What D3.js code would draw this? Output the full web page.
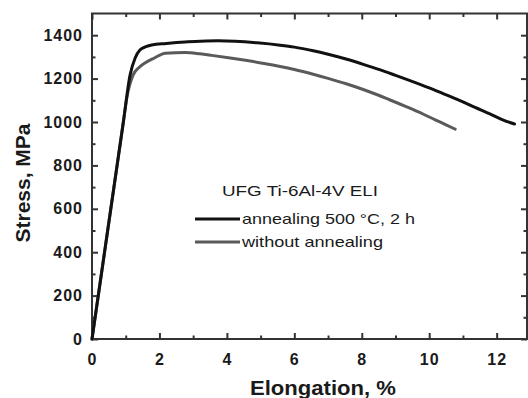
<!DOCTYPE html>
<html>
<head>
<meta charset="utf-8">
<script src="https://cdn.jsdelivr.net/npm/d3@7"></script>
<style>
  body { margin: 0; background: #fff; }
  svg { display: block; font-family: "Liberation Sans", Arial, sans-serif; }
  .axis path { display: none; }
  .axis line { stroke: #333; stroke-width: 2; }
  .axis text { font-family: "Liberation Sans", Arial, sans-serif; font-size: 16px; font-weight: bold; fill: #1a1a1a; letter-spacing: 1px; }
</style>
</head>
<body>
<svg id="chart" width="528" height="398"></svg>
<script>
// stress-strain curves (elongation %, stress MPa)
var strainAnnealed = [0, 0.93, 1.13, 1.28, 1.42, 1.6, 1.77, 2.2, 2.76, 3.2, 3.74, 4.24, 4.9, 5.58, 6.0, 6.56, 7.0, 7.56, 8.0, 8.55, 9.0, 9.39, 10.0, 10.38, 11.0, 11.36, 11.8, 12.16, 12.53];
var stressAnnealed = [0, 1000, 1217, 1295, 1332, 1347, 1355, 1362, 1369, 1372, 1374, 1372, 1365, 1354, 1345, 1328, 1312, 1289, 1268, 1240, 1215, 1193, 1157, 1133, 1093, 1067, 1037, 1011, 991];

var strainRaw = [0, 0.93, 1.03, 1.22, 1.4, 1.57, 1.85, 2.17, 2.76, 3.2, 3.55, 4.1, 4.6, 5.1, 5.58, 6.0, 6.56, 7.0, 7.56, 8.0, 8.4, 8.8, 9.39, 9.8, 10.18, 10.5, 10.77];
var stressRaw = [0, 1000, 1110, 1217, 1252, 1272, 1295, 1317, 1320, 1314, 1307, 1295, 1283, 1270, 1256, 1242, 1220, 1201, 1175, 1152, 1129, 1104, 1066, 1038, 1010, 987, 967];

var xMajor = [0, 2, 4, 6, 8, 10, 12];
var xMinor = [1, 3, 5, 7, 9, 11];
var yMajor = [0, 200, 400, 600, 800, 1000, 1200, 1400];
var yMinor = [100, 300, 500, 700, 900, 1100, 1300];

var legendTitle = "UFG Ti-6Al-4V ELI";
var seriesNames = ["annealing 500 \u00B0C, 2 h", "without annealing"];
var seriesColors = ["#111", "#5a5a5a"];

var svg = d3.select("#chart");
var plotLeft = 92, plotRight = 527, plotTop = 13.5, plotBottom = 339;

var x = d3.scaleLinear().domain([0, 12.9]).range([plotLeft, plotRight]);
var y = d3.scaleLinear().domain([0, 1500]).range([plotBottom, plotTop]);

// frame
svg.append("rect")
    .attr("x", plotLeft).attr("y", plotTop)
    .attr("width", plotRight - plotLeft).attr("height", plotBottom - plotTop)
    .attr("fill", "none").attr("stroke", "#333").attr("stroke-width", 2);

// bottom axis with labels
svg.append("g").attr("class", "axis")
    .attr("transform", "translate(0," + plotBottom + ")")
    .call(d3.axisBottom(x).tickValues(xMajor).tickSizeInner(-6).tickSizeOuter(0).tickPadding(15));
svg.append("g").attr("class", "axis")
    .attr("transform", "translate(0," + plotBottom + ")")
    .call(d3.axisBottom(x).tickValues(xMinor).tickSizeInner(-3.5).tickSizeOuter(0).tickFormat(""));
// top mirrored ticks
svg.append("g").attr("class", "axis")
    .attr("transform", "translate(0," + plotTop + ")")
    .call(d3.axisTop(x).tickValues(xMajor).tickSizeInner(-6).tickSizeOuter(0).tickFormat(""));
svg.append("g").attr("class", "axis")
    .attr("transform", "translate(0," + plotTop + ")")
    .call(d3.axisTop(x).tickValues(xMinor).tickSizeInner(-3.5).tickSizeOuter(0).tickFormat(""));

// left axis with labels
svg.append("g").attr("class", "axis")
    .attr("transform", "translate(" + plotLeft + ",0)")
    .call(d3.axisLeft(y).tickValues(yMajor).tickSizeInner(-6).tickSizeOuter(0).tickPadding(9).tickFormat(d3.format("d")));
svg.append("g").attr("class", "axis")
    .attr("transform", "translate(" + plotLeft + ",0)")
    .call(d3.axisLeft(y).tickValues(yMinor).tickSizeInner(-3.5).tickSizeOuter(0).tickFormat(""));
// right mirrored ticks
svg.append("g").attr("class", "axis")
    .attr("transform", "translate(" + plotRight + ",0)")
    .call(d3.axisRight(y).tickValues(yMajor).tickSizeInner(-6).tickSizeOuter(0).tickFormat(""));
svg.append("g").attr("class", "axis")
    .attr("transform", "translate(" + plotRight + ",0)")
    .call(d3.axisRight(y).tickValues(yMinor).tickSizeInner(-3.5).tickSizeOuter(0).tickFormat(""));

// axis titles
svg.append("text")
    .attr("x", 323).attr("y", 395)
    .attr("text-anchor", "middle")
    .attr("font-size", 21).attr("font-weight", "bold").attr("fill", "#1a1a1a")
    .attr("textLength", 146).attr("lengthAdjust", "spacingAndGlyphs")
    .text("Elongation, %");
svg.append("text")
    .attr("transform", "translate(30,183) rotate(-90)")
    .attr("text-anchor", "middle")
    .attr("font-size", 21).attr("font-weight", "bold").attr("fill", "#1a1a1a")
    .text("Stress, MPa");

// curves
var line = d3.line()
    .curve(d3.curveMonotoneX)
    .x(function (d) { return x(d[0]); })
    .y(function (d) { return y(d[1]); });

var series = [
    d3.zip(strainAnnealed, stressAnnealed),
    d3.zip(strainRaw, stressRaw)
];

// draw gray first so the black one sits on top
[1, 0].forEach(function (i) {
    svg.append("path")
        .datum(series[i])
        .attr("d", line)
        .attr("fill", "none")
        .attr("stroke", seriesColors[i])
        .attr("stroke-width", 3)
        .attr("stroke-linejoin", "round")
        .attr("stroke-linecap", "round");
});

// legend
var lg = svg.append("g");
lg.append("text")
    .attr("x", 222).attr("y", 196)
    .attr("font-size", 15).attr("fill", "#1a1a1a")
    .attr("textLength", 156).attr("lengthAdjust", "spacingAndGlyphs")
    .text(legendTitle);

var legendY = [219, 242];
var legendLen = [173, 141];
seriesNames.forEach(function (name, i) {
    lg.append("line")
        .attr("x1", 195).attr("x2", 240)
        .attr("y1", legendY[i]).attr("y2", legendY[i])
        .attr("stroke", seriesColors[i]).attr("stroke-width", 3);
    lg.append("text")
        .attr("x", 242).attr("y", legendY[i] + 4.5)
        .attr("font-size", 15).attr("fill", "#1a1a1a")
        .attr("textLength", legendLen[i]).attr("lengthAdjust", "spacingAndGlyphs")
        .text(name);
});
</script>
</body>
</html>
